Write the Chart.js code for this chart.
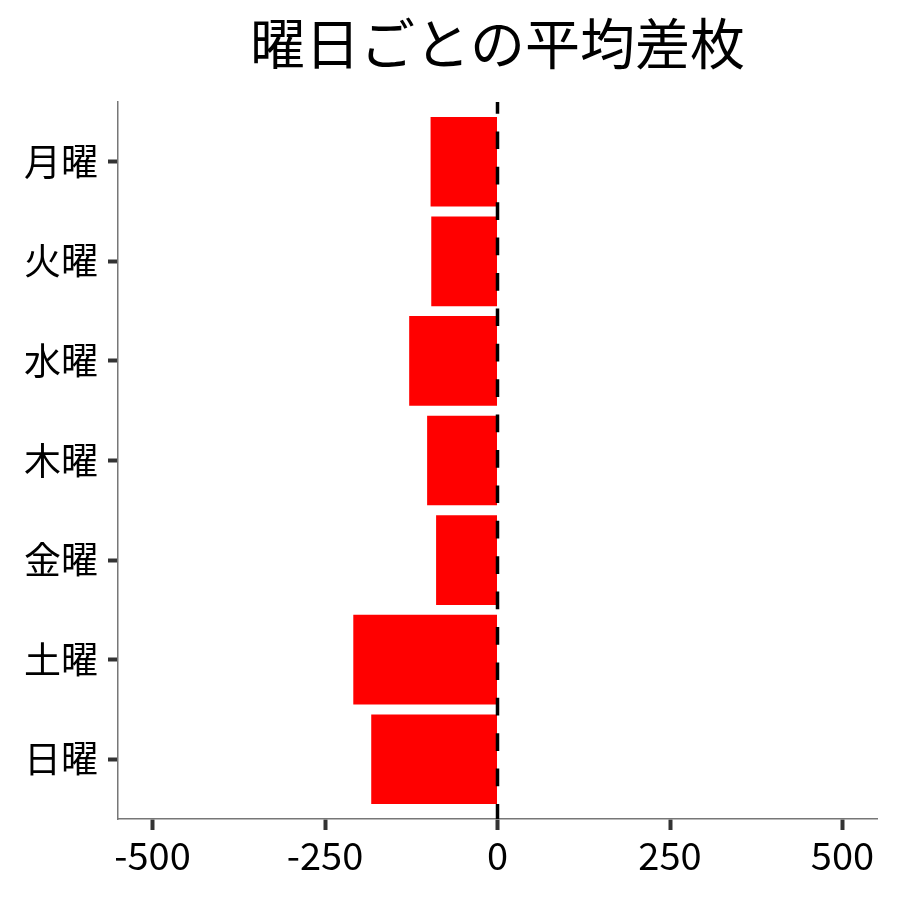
<!DOCTYPE html>
<html>
<head>
<meta charset="utf-8">
<script src="https://cdn.jsdelivr.net/npm/chart.js@4"></script>
<style>
  body { margin: 0; background: #fff; }
</style>
</head>
<body>
<canvas id="chart" width="900" height="900"></canvas>
<script>
// values
const days = ['月曜', '火曜', '水曜', '木曜', '金曜', '土曜', '日曜']
const diffs = [-97, -96, -128, -102, -89, -209, -183]
const xTicks = [-500, -250, 0, 250, 500]

const font = "'Noto Sans CJK JP', 'Noto Sans', sans-serif"

// dashed reference line at zero
const zeroLine = {
  id: 'zeroLine',
  afterDatasetsDraw(chart){
    const ctx = chart.ctx
    const area = chart.chartArea
    const x = chart.scales.x.getPixelForValue(0)
    ctx.save()
    ctx.strokeStyle = '#000'
    ctx.lineWidth = 3.5
    ctx.setLineDash([17.7, 17.7])
    ctx.lineDashOffset = 2.7
    ctx.beginPath()
    ctx.moveTo(x, area.bottom)
    ctx.lineTo(x, area.top)
    ctx.stroke()
    ctx.restore()
  }
}

const data = {
  datasets: [{
    data: days.map((d, i) => ({x: diffs[i], y: i})),
    backgroundColor: '#ff0000',
    borderWidth: 0,
    categoryPercentage: 1,
    barPercentage: 0.9
  }]
}

const config = {
  type: 'bar',
  data: data,
  options: {
    indexAxis: 'y',
    responsive: false,
    animation: false,
    layout: {padding: {left: 0, right: 23, top: 0, bottom: 0}},
    plugins: {
      legend: {display: false},
      tooltip: {enabled: false},
      title: {
        display: true,
        text: '曜日ごとの平均差枚',
        color: '#000',
        fullSize: false,
        font: {family: font, size: 55, weight: 'normal', lineHeight: 1.2},
        padding: {top: 10, bottom: 26}
      }
    },
    scales: {
      x: {
        type: 'linear',
        min: -550,
        max: 550,
        afterBuildTicks: (s) => { s.ticks = xTicks.map(v => ({value: v})) },
        afterFit: (s) => { s.height = 81 },
        border: {display: true, color: '#777', width: 1.5},
        grid: {drawOnChartArea: false, drawTicks: true, tickLength: 11, tickColor: '#333', tickWidth: 4},
        ticks: {
          color: '#000',
          padding: 3,
          maxRotation: 0,
          font: {family: font, size: 38},
          callback: (v) => String(v)
        }
      },
      y: {
        type: 'linear',
        reverse: true,
        offset: false,
        min: -0.6,
        max: 6.6,
        afterBuildTicks: (s) => { s.ticks = days.map((d, i) => ({value: i})) },
        afterFit: (s) => { s.width = 118 },
        border: {display: true, color: '#777', width: 1.5},
        grid: {offset: false, drawOnChartArea: false, drawTicks: true, tickLength: 10, tickColor: '#333', tickWidth: 4},
        ticks: {
          color: '#000',
          padding: 10,
          font: {family: font, size: 37},
          callback: (v) => days[v]
        }
      }
    }
  },
  plugins: [zeroLine]
}

new Chart(document.getElementById('chart'), config)
</script>
</body>
</html>
